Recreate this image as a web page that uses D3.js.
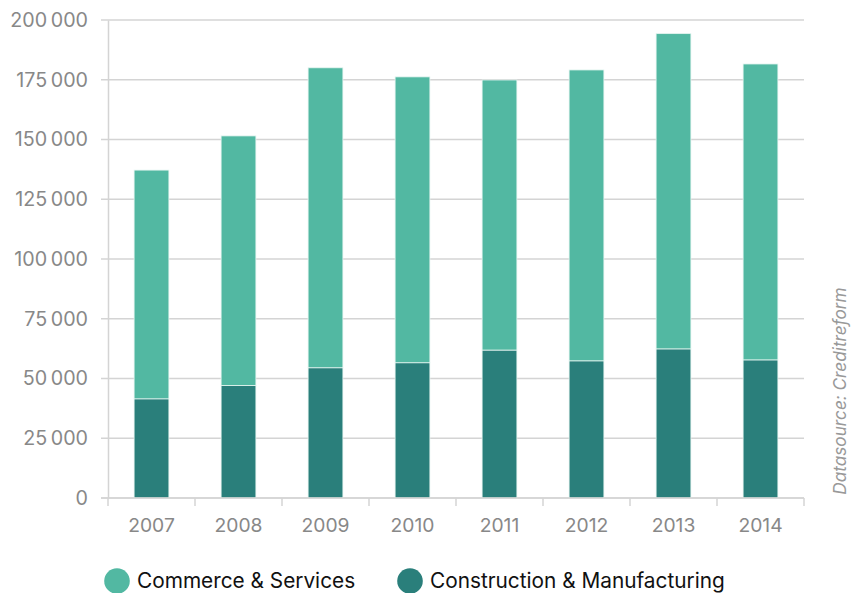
<!DOCTYPE html>
<html>
<head>
<meta charset="utf-8">
<script src="https://cdn.jsdelivr.net/npm/d3@7"></script>
<style>
  body { margin: 0; background: #fff; }
  text { font-family: Inter, "Open Sans", sans-serif; }
</style>
</head>
<body>
<div id="vizcontainer"></div>
<script>
const years = ['2007', '2008', '2009', '2010', '2011', '2012', '2013', '2014'];
const construction = [41500, 47100, 54500, 56600, 61900, 57400, 62400, 57800];
const commerce = [95700, 104400, 125500, 119600, 113000, 121700, 131900, 123800];
const yTicks = [0, 25000, 50000, 75000, 100000, 125000, 150000, 175000, 200000];
const seriesNames = ['Commerce & Services', 'Construction & Manufacturing'];
const colors = ['#52b8a2', '#2a7f7b'];

const width = 859,
  height = 593;

const margin = { left: 108, right: 55, top: 20, bottom: 95 };

let viz = d3.select('#vizcontainer')
  .append('svg')
  .attr('width', width)
  .attr('height', height);

const fmt = d3.formatLocale({ decimal: ',', thousands: '\u2009', grouping: [3], currency: ['', ''] }).format(',d');

const x = d3.scaleBand()
  .domain(years)
  .range([margin.left, width - margin.right])
  .paddingInner(0.6)
  .paddingOuter(0.3);

const y = d3.scaleLinear()
  .domain([0, 200000])
  .range([height - margin.bottom, margin.top]);

// gridlines
viz.append('g')
  .selectAll('line')
  .data(yTicks)
  .join('line')
  .attr('x1', margin.left - 7)
  .attr('x2', width - margin.right)
  .attr('y1', d => y(d))
  .attr('y2', d => y(d))
  .attr('stroke', '#d4d4d4')
  .attr('stroke-width', 1.5);

// y axis
const yAxis = viz.append('g')
  .attr('transform', `translate(${margin.left},0)`)
  .call(d3.axisLeft(y).tickValues(yTicks).tickFormat(fmt).tickSize(0).tickPadding(20));
yAxis.select('.domain').attr('stroke', '#d4d4d4').attr('stroke-width', 1.5);
yAxis.selectAll('text').attr('fill', '#888').style('font-size', '19.7px').style('font-family', 'Inter, sans-serif');

// stacked bars
const stackData = years.map((yr, i) => ({ year: yr, construction: construction[i], commerce: commerce[i] }));
const stack = d3.stack().keys(['construction', 'commerce'])(stackData);
const colorOf = { construction: colors[1], commerce: colors[0] };

viz.append('g')
  .selectAll('g')
  .data(stack)
  .join('g')
  .attr('fill', d => colorOf[d.key])
  .selectAll('rect')
  .data(d => d)
  .join('rect')
  .attr('x', d => x(d.data.year))
  .attr('width', x.bandwidth())
  .attr('y', d => y(d[1]))
  .attr('height', d => y(d[0]) - y(d[1]))
  .attr('stroke', '#e6f5f1')
  .attr('stroke-width', 0.8);

// x axis
const step = x.step();
const xTicks = d3.range(years.length + 1).map(i => margin.left + i * step);
const xAxis = viz.append('g');
xAxis.append('line')
  .attr('x1', margin.left - 7)
  .attr('x2', width - margin.right)
  .attr('y1', y(0))
  .attr('y2', y(0))
  .attr('stroke', '#d4d4d4')
  .attr('stroke-width', 1.5);
xAxis.selectAll('.tk')
  .data(xTicks)
  .join('line')
  .attr('class', 'tk')
  .attr('x1', d => d)
  .attr('x2', d => d)
  .attr('y1', y(0))
  .attr('y2', y(0) + 8)
  .attr('stroke', '#d4d4d4')
  .attr('stroke-width', 1.5);
xAxis.selectAll('text')
  .data(years)
  .join('text')
  .attr('x', d => x(d) + x.bandwidth() / 2)
  .attr('y', y(0) + 34)
  .attr('text-anchor', 'middle')
  .attr('fill', '#888')
  .style('font-size', '19.3px')
  .text(d => d);

// data source
viz.append('text')
  .attr('transform', `translate(846,391) rotate(-90)`)
  .attr('text-anchor', 'middle')
  .attr('fill', '#999')
  .style('font-size', '17.2px')
  .style('font-style', 'italic')
  .text('Datasource: Creditreform');

// legend
const legendX = [117, 410];
const legend = viz.append('g')
  .selectAll('g')
  .data(seriesNames)
  .join('g')
  .attr('transform', (d, i) => `translate(${legendX[i]},581)`);
legend.append('circle')
  .attr('r', 12.8)
  .attr('fill', (d, i) => colors[i]);
legend.append('text')
  .attr('x', 20)
  .attr('dy', '0.35em')
  .attr('fill', '#111')
  .style('font-size', '20.8px')
  .text(d => d);
</script>
</body>
</html>
